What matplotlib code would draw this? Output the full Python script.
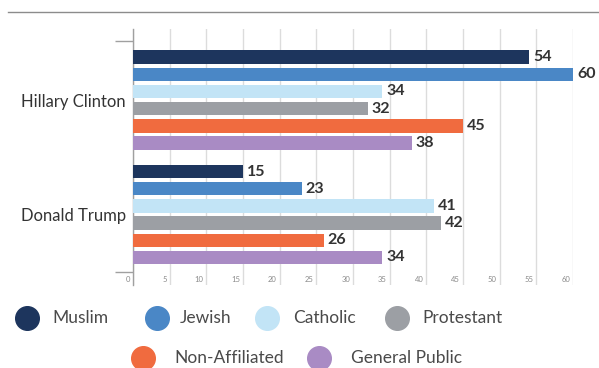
import matplotlib.pyplot as plt
from matplotlib.lines import Line2D

plt.rcParams['font.family'] = ['Lato', 'DejaVu Sans']

candidates = ["Hillary Clinton", "Donald Trump"]
groups = ["Muslim", "Jewish", "Catholic", "Protestant", "Non-Affiliated", "General Public"]
clinton = [54, 60, 34, 32, 45, 38]
trump = [15, 23, 41, 42, 26, 34]
colors = ["#1d355d", "#4a87c6", "#c2e4f6", "#9c9fa4", "#f06b3f", "#a98bc4"]
xticks = list(range(0, 61, 5))

fig = plt.figure(figsize=(5.99, 3.68), dpi=100)
W, H = 599, 368
ax = fig.add_axes([133 / W, 1 - 285 / H, 440 / W, 256 / H])

stride = 6.66
height = 0.78
for g, vals in enumerate([clinton, trump]):
    for i, v in enumerate(vals):
        y = g * stride + i
        ax.barh(y, v, height=height, color=colors[i], zorder=3)
        ax.annotate(str(v), (v, y), xytext=(3, 0), textcoords='offset points',
                    va='center', ha='left', fontsize=11.5, fontweight='bold',
                    color='#333333', zorder=4)
    ax.text(-0.016, g * stride + 2.6, candidates[g], transform=ax.get_yaxis_transform(),
            ha='right', va='center', fontsize=12, color='#333333')

ax.set_xlim(0, 60)
ax.set_ylim(13.26, -1.63)

# vertical gridlines with tiny labels tucked left of each line
ax.set_xticks(xticks)
ax.set_xticklabels([])
ax.tick_params(axis='x', length=0)
ax.grid(axis='x', color='#dcdcdc', lw=1, zorder=0)
for t in xticks:
    ax.annotate(str(t), (t, 0.02), xycoords=ax.get_xaxis_transform(),
                xytext=(-2, 0), textcoords='offset points',
                ha='right', va='center', fontsize=5.5, color='#8a8a8a')

# category boundary ticks on the left axis
ax.set_yticks([-0.93, 12.5])
ax.set_yticklabels([])
ax.tick_params(axis='y', length=13, width=1, color='#a0a0a0', direction='out')

for s in ['top', 'right', 'bottom']:
    ax.spines[s].set_visible(False)
ax.spines['left'].set_color('#a0a0a0')
ax.spines['left'].set_linewidth(1)

# header rule
fig.add_artist(Line2D([8 / W, 1], [1 - 12 / H, 1 - 12 / H], color='#8c8c8c', lw=1,
                      transform=fig.transFigure))

# legend drawn as two centred rows
legend_pos = [(27, 318, 52), (157, 318, 180), (267, 318, 293), (397, 318, 422),
              (143, 358, 174), (319, 358, 351)]
for (cx, cy, tx), name, c in zip(legend_pos, groups, colors):
    fig.add_artist(Line2D([cx / W], [1 - cy / H], marker='o', ms=17, color=c,
                          transform=fig.transFigure))
    fig.text(tx / W, 1 - cy / H, name, ha='left', va='center', fontsize=12.5,
             color='#4a4a4a')

fig.savefig('out.png', dpi=100)
